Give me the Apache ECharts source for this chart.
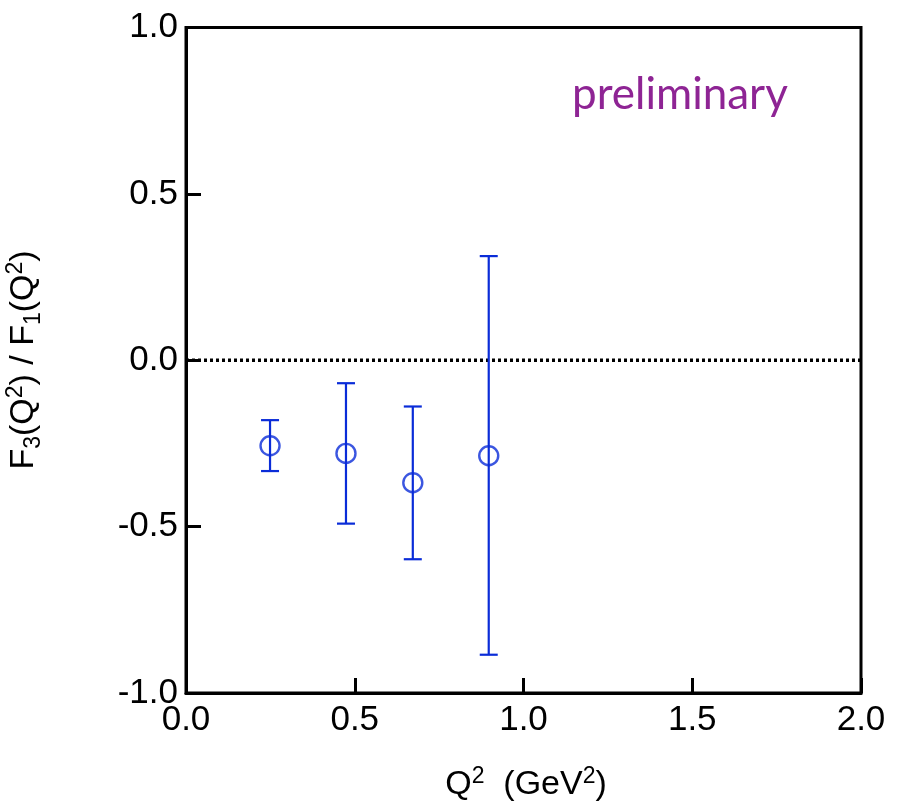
<!DOCTYPE html>
<html>
<head>
<meta charset="utf-8">
<script src="https://cdn.jsdelivr.net/npm/echarts@6/dist/echarts.min.js"></script>
<style>
html,body{margin:0;padding:0;background:#fff;}
#chart{width:897px;height:809px;}
</style>
</head>
<body>
<div id="chart"></div>
<script>
// Data
var q2 = [0.249, 0.474, 0.672, 0.897];
var ratio = [-0.257, -0.280, -0.368, -0.287];
var errLow = [-0.333, -0.491, -0.598, -0.885];
var errHigh = [-0.180, -0.069, -0.139, 0.313];
var xTicks = [0, 0.5, 1.0, 1.5, 2.0];
var yTicks = [-1.0, -0.5, 0, 0.5, 1.0];
var zeroLine = [[0, 0], [2, 0]];

var blue = '#0a2cd8';
var fontFam = '"Liberation Sans", Arial, sans-serif';

var chart = echarts.init(document.getElementById('chart'), null, {renderer: 'canvas'});

var points = q2.map(function (x, i) { return [x, ratio[i]]; });
var bars = q2.map(function (x, i) { return [x, errLow[i], errHigh[i]]; });

var option = {
  animation: false,
  backgroundColor: '#fff',
  grid: {
    left: 186, right: 36, top: 27.5, bottom: 116,
    show: true, borderColor: '#000', borderWidth: 3, backgroundColor: 'transparent'
  },
  xAxis: {
    type: 'value', min: 0, max: 2, interval: 0.5,
    axisLine: {show: true, onZero: false, lineStyle: {color: '#000', width: 3}},
    axisTick: {show: true, inside: true, length: 15, lineStyle: {color: '#000', width: 3}},
    axisLabel: {
      color: '#000', fontSize: 35, fontFamily: fontFam, margin: 10,
      formatter: function (v) { return v.toFixed(1); }
    },
    splitLine: {show: false}
  },
  yAxis: {
    type: 'value', min: -1, max: 1, interval: 0.5,
    axisLine: {show: true, onZero: false, lineStyle: {color: '#000', width: 3}},
    axisTick: {show: true, inside: true, length: 15, lineStyle: {color: '#000', width: 3}},
    axisLabel: {
      color: '#000', fontSize: 35, fontFamily: fontFam, margin: 8,
      formatter: function (v) { return v.toFixed(1); }
    },
    splitLine: {show: false}
  },
  graphic: [
    {
      type: 'text', left: 572, top: 73,
      style: {text: 'preliminary', fill: '#8e2494', font: '44px "Lato", "Open Sans", sans-serif'}
    },
    {
      type: 'text', x: 24, y: 360, rotation: Math.PI / 2,
      style: {
        text: '{m|F}{sb|3}{m|(Q}{sp|2}{m|) / F}{sb|1}{m|(Q}{sp|2}{m|)}',
        align: 'center', verticalAlign: 'middle',
        rich: {
          m: {fontSize: 34, fontFamily: fontFam, fill: '#000', lineHeight: 46, verticalAlign: 'middle'},
          sb: {fontSize: 23, fontFamily: fontFam, fill: '#000', lineHeight: 46, verticalAlign: 'bottom', padding: [0, 0, 2, 0]},
          sp: {fontSize: 23, fontFamily: fontFam, fill: '#000', lineHeight: 46, verticalAlign: 'top', padding: [3, 0, 0, 0]}
        }
      }
    },
    {
      type: 'text', x: 526, y: 785,
      style: {
        text: '{m|Q}{sp|2}{m|  (GeV}{sp|2}{m|)}',
        align: 'center', verticalAlign: 'middle',
        rich: {
          m: {fontSize: 34, fontFamily: fontFam, fill: '#000', lineHeight: 46, verticalAlign: 'middle'},
          sp: {fontSize: 23, fontFamily: fontFam, fill: '#000', lineHeight: 46, verticalAlign: 'top', padding: [3, 0, 0, 0]}
        }
      }
    }
  ],
  series: [
    {
      type: 'line', data: zeroLine, symbol: 'none', silent: true, z: 1,
      lineStyle: {color: '#000', width: 3.5, type: [3, 3]}
    },
    {
      type: 'custom', data: bars, silent: true,
      renderItem: function (params, api) {
        var x = api.value(0);
        var lo = api.coord([x, api.value(1)]);
        var hi = api.coord([x, api.value(2)]);
        var cw = 9;
        var st = {stroke: blue, lineWidth: 2.2};
        return {
          type: 'group',
          children: [
            {type: 'line', shape: {x1: lo[0], y1: lo[1], x2: hi[0], y2: hi[1]}, style: st},
            {type: 'line', shape: {x1: lo[0] - cw, y1: lo[1], x2: lo[0] + cw, y2: lo[1]}, style: st},
            {type: 'line', shape: {x1: hi[0] - cw, y1: hi[1], x2: hi[0] + cw, y2: hi[1]}, style: st}
          ]
        };
      }
    },
    {
      type: 'scatter', data: points, symbol: 'circle', symbolSize: 19,
      itemStyle: {color: 'rgba(255,255,255,0)', borderColor: blue, borderWidth: 2.4}
    }
  ]
};
chart.setOption(option);
</script>
</body>
</html>
